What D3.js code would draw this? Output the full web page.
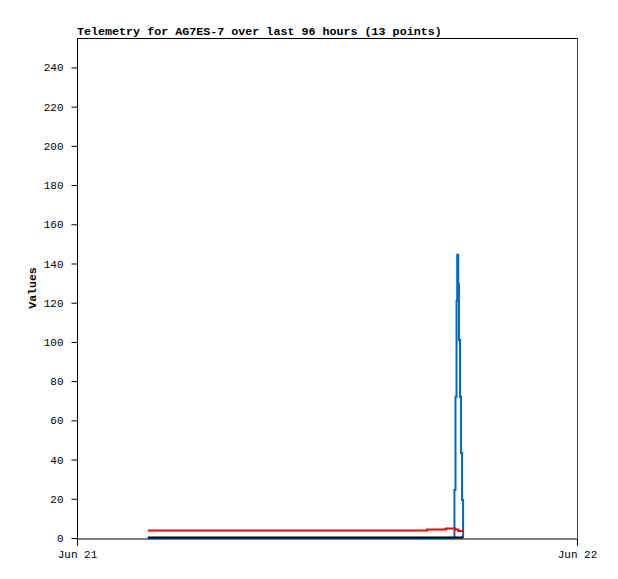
<!DOCTYPE html>
<html><head><meta charset="utf-8">
<script src="https://cdn.jsdelivr.net/npm/d3@7"></script>
<style>body{margin:0;background:#fff}svg{display:block}</style>
</head><body>
<svg id="c" width="618" height="579"></svg>
<script>
const titleText = "Telemetry for AG7ES-7 over last 96 hours (13 points)";
const yLabel = "Values";
const times = ["2023-06-21T03:24","2023-06-21T16:48","2023-06-21T17:42","2023-06-21T18:07","2023-06-21T18:10","2023-06-21T18:13","2023-06-21T18:15","2023-06-21T18:18","2023-06-21T18:20","2023-06-21T18:23","2023-06-21T18:26","2023-06-21T18:29","2023-06-21T18:32"];
const blueVals = [0,0,0,24.5,72,121,144.5,129.6,101,72,43.4,19.4,0];
const redVals = [3.8,4.3,4.9,4.9,4.3,4.3,4.3,3.6,3.6,3.6,3.6,3.6,3.6];
const blackVals = [0.3,0.3,0.3,0.3,0.3,0.3,0.3,0.3,0.3,0.3,0.3,0.3,0.3];
const yTicks = [0,20,40,60,80,100,120,140,160,180,200,220,240];
const xTickDates = ["2023-06-21T00:00","2023-06-22T00:00"];

const parse = d3.timeParse("%Y-%m-%dT%H:%M");
const T = times.map(parse);
const svg = d3.select("#c");
const L=77,R=577,Tp=38,B=538;
const x = d3.scaleTime().domain(xTickDates.map(parse)).range([L,R]);
const y = d3.scaleLinear().domain([0,255]).range([B,Tp]);
const font = "'Liberation Mono', 'DejaVu Sans Mono', monospace";

// frame
svg.append("line").attr("x1",L).attr("x2",R).attr("y1",Tp+0.5).attr("y2",Tp+0.5).attr("stroke","#000");
svg.append("line").attr("x1",R+0.5).attr("x2",R+0.5).attr("y1",Tp).attr("y2",B).attr("stroke","#444");

const yAxis = svg.append("g").attr("transform",`translate(${L+0.5},0)`)
  .call(d3.axisLeft(y).tickValues(yTicks).tickSize(6).tickPadding(8).tickFormat(d3.format("d")));
const xAxis = svg.append("g").attr("transform",`translate(0,${B+0.5})`)
  .call(d3.axisBottom(x).tickValues(xTickDates.map(parse)).tickSize(7).tickPadding(5).tickFormat(d3.timeFormat("%b %d")));
[yAxis,xAxis].forEach(g=>{
  g.select(".domain").attr("stroke","#000");
  g.selectAll(".tick line").attr("stroke","#000");
  g.selectAll("text").attr("font-family",font).attr("font-size","11px").attr("fill","#000");
});
yAxis.selectAll(".domain").attr("d",`M0,${Tp}V${B}`);

const line = vals => d3.line().curve(d3.curveStepAfter).x((d,i)=>x(T[i])).y(d=>y(d))(vals);
svg.append("path").attr("d",line(blueVals)).attr("fill","none").attr("stroke","#0066cc").attr("stroke-width",2);
svg.append("path").attr("d",line(redVals)).attr("fill","none").attr("stroke","#ff0000").attr("stroke-width",2);
svg.append("path").attr("d",line(blackVals)).attr("fill","none").attr("stroke","#000").attr("stroke-width",2);

svg.append("text").attr("x",L).attr("y",35).text(titleText)
  .attr("font-family",font).attr("font-size","11.7px").attr("font-weight","bold");
svg.append("text").attr("transform",`translate(36,${(Tp+B)/2}) rotate(-90)`).attr("text-anchor","middle")
  .text(yLabel).attr("font-family",font).attr("font-size","11.5px").attr("font-weight","bold");
</script>
</body></html>
